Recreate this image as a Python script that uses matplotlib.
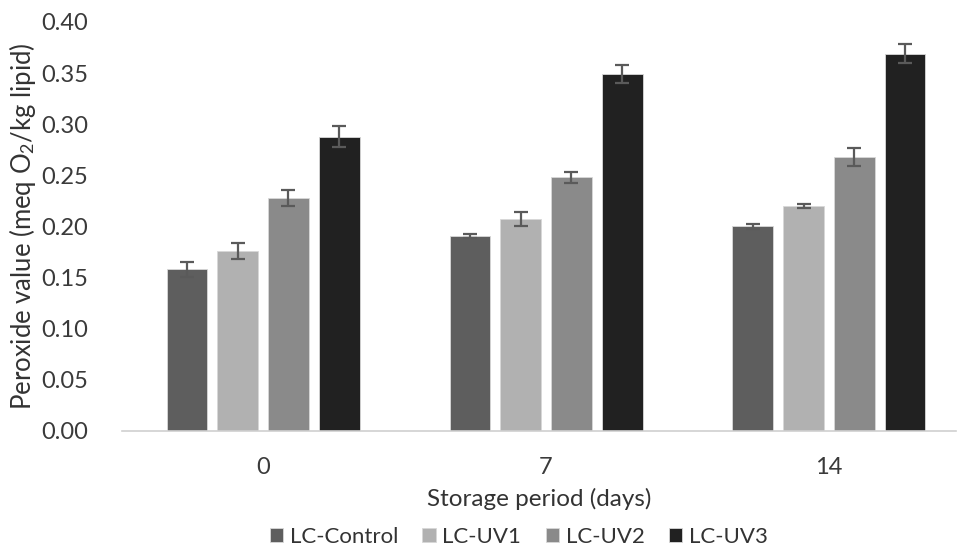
import matplotlib.pyplot as plt
import numpy as np

plt.rcParams["font.family"] = ["Lato", "DejaVu Sans"]
plt.rcParams["mathtext.fontset"] = "custom"
plt.rcParams["mathtext.rm"] = "Lato"
plt.rcParams["mathtext.it"] = "Lato:italic"

DAYS = ["0", "7", "14"]
SERIES = ["LC-Control", "LC-UV1", "LC-UV2", "LC-UV3"]
VALUES = [
    [0.158, 0.191, 0.200],   # LC-Control
    [0.176, 0.207, 0.220],   # LC-UV1
    [0.228, 0.248, 0.268],   # LC-UV2
    [0.288, 0.349, 0.369],   # LC-UV3
]
ERRORS = [
    [0.007, 0.002, 0.002],
    [0.008, 0.007, 0.002],
    [0.008, 0.005, 0.009],
    [0.010, 0.009, 0.009],
]
COLORS = ["#5e5e5e", "#b1b1b1", "#8a8a8a", "#212121"]
OFFSETS = [-0.27, -0.09, 0.09, 0.27]


def main() -> None:
    fig = plt.figure(figsize=(9.57, 5.5), dpi=100)
    ax = fig.add_axes([0.127, 0.2164, 0.872, 0.7436])
    x = np.arange(len(DAYS))

    for vals, errs, col, off, name in zip(VALUES, ERRORS, COLORS, OFFSETS, SERIES):
        ax.bar(x + off, vals, width=0.142, color=col, edgecolor="#d8d8d8",
               linewidth=0.6, label=name, zorder=2)
        ax.errorbar(x + off, vals, yerr=errs, fmt="none", ecolor="#5a5a5a",
                    elinewidth=1.6, capsize=5, capthick=1.6, zorder=3)

    ax.set_xlim(-0.5, 2.449)
    ax.set_ylim(0, 0.40)
    ticks = np.arange(0, 0.401, 0.05)
    ax.set_yticks(ticks)
    ax.set_yticklabels([f"{v:.2f}" for v in ticks])
    ax.set_xticks(x)
    ax.set_xticklabels(DAYS)
    ax.tick_params(axis="both", length=0, labelsize=17, labelcolor="#3a3a3a")
    ax.tick_params(axis="x", pad=19)
    ax.tick_params(axis="y", pad=24)

    for s in ["top", "right", "left"]:
        ax.spines[s].set_visible(False)
    ax.spines["bottom"].set_color("#d0d0d0")
    ax.spines["bottom"].set_linewidth(1.2)

    ax.set_xlabel("Storage period (days)", fontsize=17.5, color="#333333", labelpad=7)
    ax.set_ylabel("Peroxide value (meq O$_2$/kg lipid)", fontsize=18.5,
                  color="#333333", labelpad=2)

    fig.legend(loc="lower center", bbox_to_anchor=(0.542, -0.031), ncol=4,
               frameon=False, fontsize=16, handlelength=0.6,
               handleheight=0.6, handletextpad=0.3, columnspacing=1.1,
               labelcolor="#333333")

    fig.savefig("out.png", dpi=100)


if __name__ == "__main__":
    main()
